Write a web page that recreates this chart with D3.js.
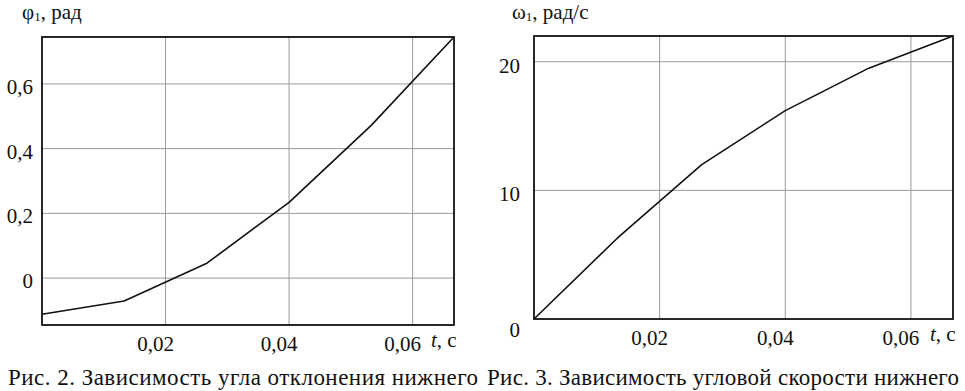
<!DOCTYPE html>
<html>
  <head>
    <meta charset="utf-8">
    <script type="text/javascript" src="https://cdn.jsdelivr.net/npm/d3@7"></script>
  </head>
  <body style="margin:0">
    <script type="text/javascript">
      // data
      var times = [0, 0.0133, 0.0267, 0.04, 0.0533, 0.0667];
      var phiValues = [-0.112, -0.071, 0.046, 0.234, 0.472, 0.745];
      var omegaValues = [0, 6.3, 12.0, 16.2, 19.5, 22.0];
      var xTicks = [0.02, 0.04, 0.06];
      var phiTicks = [0, 0.2, 0.4, 0.6];
      var omegaTicks = [10, 20];
      var captions = ["Рис. 2. Зависимость угла отклонения нижнего",
                      "Рис. 3. Зависимость угловой скорости нижнего"];

      var w = 965, h = 391;
      var serif = "'Liberation Serif', 'Times New Roman', serif";
      var svg = d3.select("body").append("svg")
                  .attr("width", w)
                  .attr("height", h);

      var fmt = function(d) { return d === 0 ? "0" : String(d).replace(".", ","); };

      function label(sel, size) {
        return sel.attr("font-family", serif)
                  .attr("font-size", size)
                  .attr("fill", "#111");
      }

      function drawChart(cfg) {
        var x = d3.scaleLinear().domain([0, 0.0667]).range([cfg.left, cfg.right]);
        var y = d3.scaleLinear().domain(cfg.yDomain).range([cfg.bottom, cfg.top]);
        var g = svg.append("g");

        // grid
        g.selectAll("line.vgrid")
         .data(xTicks)
         .enter()
         .append("line")
         .attr("x1", function(d) { return x(d); })
         .attr("x2", function(d) { return x(d); })
         .attr("y1", cfg.top)
         .attr("y2", cfg.bottom)
         .attr("stroke", "#9a9a9a")
         .attr("stroke-width", 1);
        g.selectAll("line.hgrid")
         .data(cfg.yTicks.filter(function(d) { return y(d) < cfg.bottom - 1; }))
         .enter()
         .append("line")
         .attr("x1", cfg.left)
         .attr("x2", cfg.right)
         .attr("y1", function(d) { return y(d); })
         .attr("y2", function(d) { return y(d); })
         .attr("stroke", "#9a9a9a")
         .attr("stroke-width", 1);

        // frame
        g.append("rect")
         .attr("x", cfg.left)
         .attr("y", cfg.top)
         .attr("width", cfg.right - cfg.left)
         .attr("height", cfg.bottom - cfg.top)
         .attr("fill", "none")
         .attr("stroke", "#111")
         .attr("stroke-width", 1.8);

        // curve
        var line = d3.line()
                     .x(function(d) { return x(d[0]); })
                     .y(function(d) { return y(d[1]); });
        g.append("path")
         .datum(d3.zip(times, cfg.values))
         .attr("d", line)
         .attr("fill", "none")
         .attr("stroke", "#111")
         .attr("stroke-width", 1.6)
         .attr("stroke-linejoin", "round");

        // x tick labels
        label(g.selectAll("text.xt")
         .data(xTicks)
         .enter()
         .append("text")
         .text(fmt)
         .attr("x", function(d) { return x(d) - 10; })
         .attr("y", cfg.bottom + 26)
         .attr("text-anchor", "middle"), "21px");

        // y tick labels
        label(g.selectAll("text.yt")
         .data(cfg.yTicks)
         .enter()
         .append("text")
         .text(fmt)
         .attr("x", cfg.yLabelX)
         .attr("y", function(d) { return Math.min(y(d), cfg.bottom) + cfg.yLabelDy(d); })
         .attr("text-anchor", "end"), "21px");

        // axis unit on x
        var tl = label(g.append("text")
                  .attr("x", cfg.right - 23)
                  .attr("y", cfg.bottom + 22), "21px");
        tl.append("tspan").attr("font-style", "italic").text("t");
        tl.append("tspan").text(", с");

        // axis title on y
        var yt = label(g.append("text")
                  .attr("x", cfg.titleX)
                  .attr("y", 19), "21px");
        yt.append("tspan").text(cfg.symbol);
        yt.append("tspan").attr("font-size", "13px").attr("dy", 2).text("1");
        yt.append("tspan").attr("dy", -2).text(cfg.unit);

        // caption, stretched to the reference width
        label(g.append("text")
         .text(cfg.caption)
         .attr("x", cfg.captionX)
         .attr("y", 385)
         .attr("textLength", cfg.captionWidth)
         .attr("lengthAdjust", "spacing"), "23px");
      }

      drawChart({
        left: 42, right: 454, top: 37, bottom: 325,
        yDomain: [-0.145, 0.745],
        values: phiValues,
        yTicks: phiTicks,
        yLabelX: 33,
        yLabelDy: function() { return 10; },
        symbol: "φ", unit: ", рад",
        titleX: 22,
        caption: captions[0],
        captionX: 8,
        captionWidth: 470
      });

      drawChart({
        left: 534, right: 953, top: 36, bottom: 319,
        yDomain: [0, 22],
        values: omegaValues,
        yTicks: [0].concat(omegaTicks),
        yLabelX: 520,
        yLabelDy: function(d) { return d === 0 ? 18 : 11; },
        symbol: "ω", unit: ", рад/с",
        titleX: 512,
        caption: captions[1],
        captionX: 487,
        captionWidth: 472
      });
    </script>
  </body>
</html>
